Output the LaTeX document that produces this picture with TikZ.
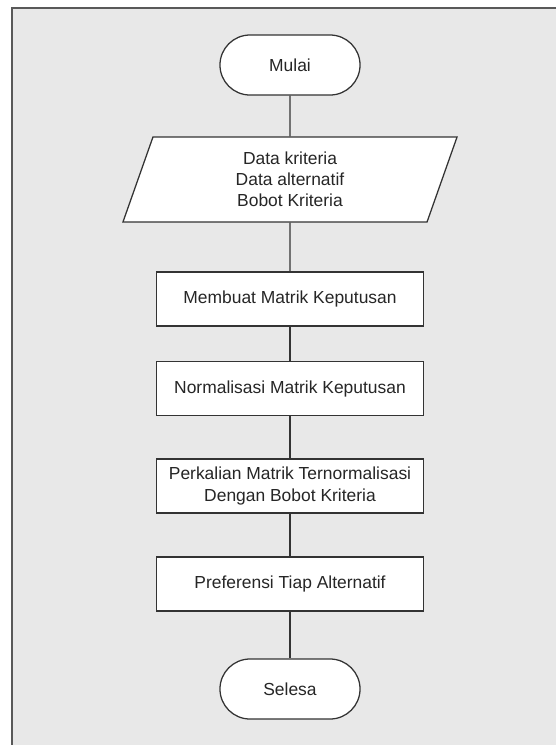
\documentclass[tikz,border=0pt]{standalone}
\usepackage{fontspec}
\setmainfont{Liberation Sans}
\usetikzlibrary{shapes.geometric}
\tikzset{
  terminal/.style={draw=black!80,fill=white,line width=0.9pt,rounded corners=0.75cm,minimum width=3.5cm,minimum height=1.5cm,text=black!85},
  masukan/.style={trapezium,trapezium left angle=65,trapezium right angle=115,trapezium stretches body,draw=black!80,fill=white,line width=0.9pt,minimum width=8.35cm,minimum height=2.125cm,align=center,text=black!85},
  proses/.style={draw=black!80,fill=white,line width=0.9pt,minimum width=6.675cm,minimum height=1.35cm,align=center,text=black!85},
  garis/.style={line width=0.9pt,black!80},
}
\begin{document}
\begin{tikzpicture}[x=0.025cm,y=-0.025cm,font=\fontsize{12.4}{15}\selectfont]
      \useasboundingbox (0,0) rectangle (556,745);
      \fill[black!9] (12,8) rectangle (556,745);
      \draw[black!65,line width=1.2pt] (12,745)--(12,8)--(556,8);
      \node [terminal] (mulai) at (290,65) {Mulai};
      \node [masukan] (data) at (290,179.5) {Data kriteria\\Data alternatif\\Bobot Kriteria};
      \node [proses] (matrik) at (290,299) {Membuat Matrik Keputusan};
      \node [proses] (normal) at (290,388.5) {Normalisasi Matrik Keputusan};
      \node [proses] (kali) at (290,486) {Perkalian Matrik Ternormalisasi\\Dengan Bobot Kriteria};
      \node [proses] (pref) at (290,584) {Preferensi Tiap Alternatif};
      \node [terminal] (selesai) at (290,689) {Selesa};
      \draw[garis] (mulai)--(data);
      \draw[garis] (data)--(matrik);
      \draw[garis] (matrik)--(normal);
      \draw[garis] (normal)--(kali);
      \draw[garis] (kali)--(pref);
      \draw[garis] (pref)--(selesai);
    \end{tikzpicture}
\end{document}
